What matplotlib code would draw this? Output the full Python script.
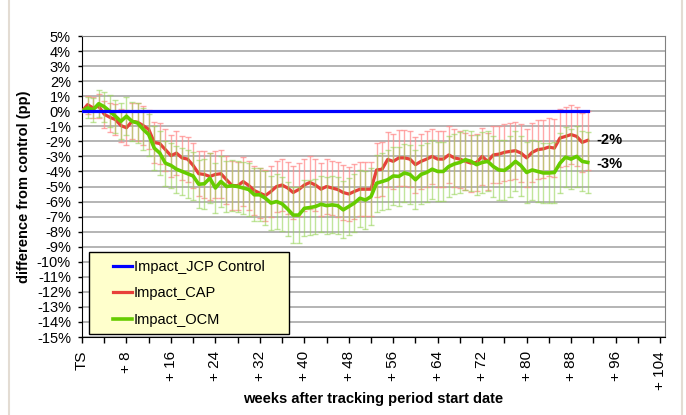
import numpy as np
import matplotlib
matplotlib.use("Agg")
import matplotlib.pyplot as plt
from matplotlib.patches import Rectangle
from matplotlib.lines import Line2D

plt.rcParams['font.family'] = ['Liberation Sans', 'DejaVu Sans']

# weekly values, percentage points difference from control
weeks = np.arange(92)

cap = [0.0, 0.44, 0.22, 0.33, -0.2, -0.4, -0.55, -0.95, -1.1, -0.67,
       -0.73, -0.95, -1.2, -2.07, -2.15, -2.55, -2.95, -2.78, -3.1, -3.18,
       -3.6, -4.15, -4.2, -4.33, -4.2, -4.15, -4.55, -4.93, -4.95, -4.67,
       -4.93, -5.27, -5.44, -5.6, -5.33, -5.0, -4.9, -5.1, -5.4, -5.2,
       -4.9, -4.73, -4.9, -5.18, -5.0, -5.1, -5.2, -5.4, -5.5, -5.33,
       -5.18, -5.18, -5.18, -3.9, -3.85, -3.2, -3.33, -3.1, -3.1, -3.18,
       -3.55, -3.33, -3.18, -3.0, -3.18, -3.18, -2.9, -3.1, -3.18, -3.33,
       -3.45, -3.4, -3.0, -3.33, -2.9, -2.85, -2.73, -2.67, -2.62, -2.78,
       -3.1, -2.73, -2.55, -2.5, -2.38, -2.45, -1.78, -1.67, -1.55, -1.67,
       -2.07, -1.93]

ocm = [0.0, 0.22, 0.1, 0.5, 0.3, 0.0, -0.33, -0.67, -0.33, -0.67,
       -0.78, -1.2, -1.55, -2.45, -2.78, -3.45, -3.6, -3.85, -4.0, -4.15,
       -4.3, -4.85, -4.82, -4.45, -5.1, -4.67, -5.0, -4.95, -5.0, -5.1,
       -5.2, -5.55, -5.55, -5.78, -6.1, -6.0, -6.15, -6.5, -6.9, -6.9,
       -6.45, -6.4, -6.33, -6.18, -6.27, -6.22, -6.27, -6.55, -6.33, -6.1,
       -5.78, -5.9, -5.67, -4.78, -4.67, -4.55, -4.3, -4.33, -4.1, -4.2,
       -4.55, -4.2, -4.07, -3.85, -4.0, -4.0, -3.67, -3.5, -3.4, -3.22,
       -3.33, -3.55, -3.4, -3.33, -3.67, -3.9, -3.93, -3.67, -3.33, -3.62,
       -4.07, -3.9, -4.0, -4.1, -4.1, -4.07, -3.45, -3.05, -3.18, -3.0,
       -3.33, -3.4]

cap_err = [0.0, 0.6, 0.7, 0.8, 0.9, 0.95, 1.0, 1.1, 1.15, 1.2,
           1.25, 1.3, 1.3, 1.35, 1.35, 1.4, 1.4, 1.45, 1.45, 1.5,
           1.5, 1.5, 1.55, 1.55, 1.55, 1.6, 1.6, 1.6, 1.6, 1.65,
           1.65, 1.65, 1.65, 1.7, 1.7, 1.7, 1.7, 1.7, 1.75, 1.75,
           1.75, 1.75, 1.75, 1.75, 1.8, 1.8, 1.8, 1.8, 1.8, 1.8,
           1.8, 1.8, 1.8, 1.8, 1.8, 1.85, 1.85, 1.85, 1.85, 1.85,
           1.85, 1.85, 1.85, 1.85, 1.85, 1.85, 1.9, 1.9, 1.9, 1.9,
           1.9, 1.9, 1.9, 1.9, 1.9, 1.9, 1.9, 1.9, 1.9, 1.9,
           1.9, 1.95, 1.95, 1.95, 1.95, 1.95, 1.95, 1.95, 1.95, 1.95,
           1.95, 1.95]

ocm_err = [0.0, 0.7, 0.8, 0.9, 1.0, 1.05, 1.1, 1.2, 1.25, 1.3,
           1.35, 1.4, 1.4, 1.45, 1.45, 1.5, 1.5, 1.55, 1.55, 1.6,
           1.6, 1.6, 1.65, 1.65, 1.65, 1.7, 1.7, 1.7, 1.7, 1.75,
           1.75, 1.75, 1.75, 1.8, 1.8, 1.8, 1.8, 1.8, 1.85, 1.85,
           1.85, 1.85, 1.85, 1.85, 1.9, 1.9, 1.9, 1.9, 1.9, 1.9,
           1.9, 1.9, 1.9, 1.9, 1.9, 1.95, 1.95, 1.95, 1.95, 1.95,
           1.95, 1.95, 1.95, 1.95, 1.95, 1.95, 2.0, 2.0, 2.0, 2.0,
           2.0, 2.0, 2.0, 2.0, 2.0, 2.0, 2.0, 2.0, 2.0, 2.0,
           2.0, 2.0, 2.0, 2.0, 2.0, 2.0, 2.0, 2.0, 2.0, 2.0,
           2.0, 2.0]

control = [0.0] * len(weeks)

x_ticks = [0, 8, 16, 24, 32, 40, 48, 56, 64, 72, 80, 88, 96, 104]
x_labels = ["TS", "+ 8", "+ 16", "+ 24", "+ 32", "+ 40", "+ 48", "+ 56",
            "+ 64", "+ 72", "+ 80", "+ 88", "+ 96", "+ 104"]
y_ticks = list(range(-15, 6))
y_labels = ["%d%%" % v for v in y_ticks]

fig = plt.figure(figsize=(6.86, 4.15), dpi=100)
ax = fig.add_axes([82 / 686, 1 - 337 / 415, 583 / 686, 301 / 415])

ax.errorbar(weeks, cap, yerr=cap_err, fmt='none', ecolor='#FF8C8C',
            elinewidth=1, capsize=2, capthick=1, alpha=0.75, zorder=2)
ax.plot(weeks, cap, color='#E8403A', lw=2.3, zorder=3, label='Impact_CAP')
ax.errorbar(weeks, ocm, yerr=ocm_err, fmt='none', ecolor='#98D458',
            elinewidth=1, capsize=2, capthick=1, alpha=0.6, zorder=4)
ax.plot(weeks, ocm, color='#66CC00', lw=2.6, zorder=5, label='Impact_OCM')
ax.plot(weeks, control, color='#0000FF', lw=2.3, zorder=6,
        label='Impact_JCP Control')

ax.text(weeks[-1] + 1.6, cap[-1], "%d%%" % round(cap[-1]), fontsize=10.5,
        fontweight='bold', ha='left', va='center')
ax.text(weeks[-1] + 1.6, ocm[-1] - 0.1, "%d%%" % round(ocm[-1]), fontsize=10.5,
        fontweight='bold', ha='left', va='center')

ax.set_xlim(0, 104.9)
ax.set_ylim(-15, 5)
ax.set_yticks(y_ticks)
ax.set_yticklabels(y_labels, fontsize=10.5)
ax.set_xticks(x_ticks)
ax.set_xticklabels(x_labels, rotation=90, fontsize=11)
ax.set_xticks(range(4, 105, 8), minor=True)
ax.tick_params(axis='x', which='both', direction='out', length=4, width=1, pad=6)
ax.tick_params(axis='y', direction='out', length=3, width=1, pad=5)

ax.yaxis.grid(True, color='#A8A8A8', lw=1.2)
ax.set_axisbelow(True)
for s in ['top', 'right']:
    ax.spines[s].set_color('#808080')
for s in ['left', 'bottom']:
    ax.spines[s].set_color('black')

ax.set_ylabel("difference from control (pp)", fontsize=10.5, fontweight='bold', labelpad=4)
ax.set_xlabel("weeks after tracking period start date", fontsize=10.5,
              fontweight='bold', labelpad=2)

# legend box
ax.add_patch(Rectangle((0.012, 0.01), 0.343, 0.272, transform=ax.transAxes,
                       facecolor='#FFFFCC', edgecolor='black', lw=1, zorder=7))
handles, labels = ax.get_legend_handles_labels()
order = [2, 0, 1]
leg = ax.legend([handles[i] for i in order], [labels[i] for i in order],
                loc='center left', bbox_to_anchor=(0.053, 0.145), frameon=False,
                fontsize=10.5, handlelength=1.3, handletextpad=0.15,
                labelspacing=0.85, borderpad=0, borderaxespad=0)
leg.set_zorder(8)

fig.add_artist(Line2D([9 / 686, 9 / 686], [0, 1], color='#E3DCD3', lw=1.5))
fig.add_artist(Line2D([682 / 686, 682 / 686], [0, 1], color='#E3DCD3', lw=1.5))

fig.savefig("out.png", dpi=100)
